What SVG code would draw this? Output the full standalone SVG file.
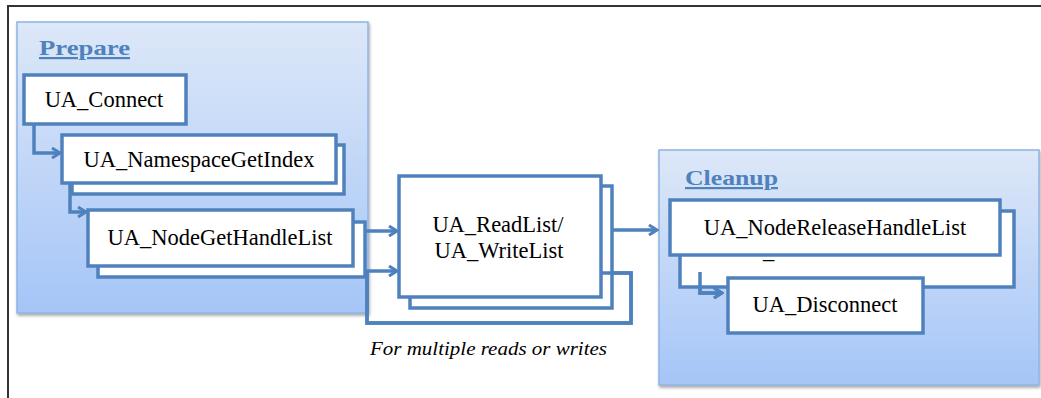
<svg xmlns="http://www.w3.org/2000/svg" width="1041" height="398" viewBox="0 0 1041 398">
<style>
.frame{stroke:#333;stroke-width:2;fill:none}
.group{fill:url(#grp);stroke:#8fb4e3;stroke-width:1.5;filter:url(#sh)}
.node{fill:#fff;stroke:#4f81bd;stroke-width:3.5}
.t{font-size:22.5px;fill:#000}
.tc{text-anchor:middle}
.h{font-size:22px;font-weight:bold;fill:#4f81bd;text-decoration:underline}
.note{font-size:18px;font-style:italic;fill:#000}
.c{fill:none;stroke:#4f81bd;stroke-width:3.5;marker-end:url(#ah)}
.cl{fill:none;stroke:#4f81bd;stroke-width:3.5}
</style>
<defs>
<linearGradient id="grp" x1="0" y1="0" x2="0" y2="1">
<stop offset="0" stop-color="#dde8f8"/>
<stop offset="1" stop-color="#a5c5f7"/>
</linearGradient>
<filter id="sh" x="-5%" y="-5%" width="110%" height="115%">
<feDropShadow dx="1" dy="2" stdDeviation="1.5" flood-color="#000" flood-opacity="0.35"/>
</filter>
<marker id="ah" viewBox="0 0 12 12" refX="10" refY="6" markerWidth="12" markerHeight="12" orient="auto" markerUnits="userSpaceOnUse">
<path d="M2,1 L10,6 L2,11" fill="none" stroke="#4f81bd" stroke-width="3"/>
</marker>
</defs>
<rect width="1041" height="398" fill="#fff"/>
<path class="frame" d="M8,398 V6 H1041"/>

<g font-family="'Liberation Serif', 'Times New Roman', serif">
<g id="prepare">
<rect class="group" x="17" y="22" width="351" height="291"/>
<text class="h" x="39" y="55" textLength="91" lengthAdjust="spacingAndGlyphs">Prepare</text>
</g>
<g id="cleanup">
<rect class="group" x="659" y="150" width="380" height="235"/>
<text class="h" x="685" y="185" textLength="93" lengthAdjust="spacingAndGlyphs">Cleanup</text>
</g>

<g id="connectors">
<path class="c" d="M34,124 V153 H60"/>
<path class="c" d="M70,183 V212 H86"/>
<path class="c" d="M353,231 H397"/>
<path class="c" d="M601,273 H631 V323 H367 V271 H397"/>
<path class="c" d="M601,230 H657"/>
<path class="c" d="M700,272 V293 H722"/>
</g>

<g id="ua_connect">
<rect class="node" x="24" y="75" width="162" height="49"/>
<text class="t tc" x="104" y="107">UA_Connect</text>
</g>
<g id="ua_namespacegetindex">
<rect class="node" x="72" y="145" width="272" height="49"/>
<rect class="node" x="62" y="135" width="274" height="48"/>
<text class="t tc" x="199" y="167">UA_NamespaceGetIndex</text>
</g>
<g id="ua_nodegethandlelist">
<rect class="node" x="98" y="222" width="267" height="55"/>
<rect class="node" x="88" y="210" width="265" height="56"/>
<text class="t tc" x="220" y="245">UA_NodeGetHandleList</text>
</g>
<g id="ua_readlist_writelist">
<rect class="node" x="410" y="186" width="202" height="122"/>
<rect class="node" x="399" y="176" width="202" height="121"/>
<text class="t tc" x="498" y="232">UA_ReadList/</text>
<text class="t tc" x="499" y="258">UA_WriteList</text>
</g>
<path class="cl" d="M601,273 H631 V323 H367 V271"/>
<g id="ua_nodereleasehandlelist">
<rect class="node" x="680" y="211" width="334" height="76"/>
<rect class="node" x="670" y="200" width="330" height="55"/>
<text class="t tc" x="835" y="235">UA_NodeReleaseHandleList</text>
<text class="t" x="763" y="258">_</text>
</g>
<path class="c" d="M700,272 V293 H722"/>
<g id="ua_disconnect">
<rect class="node" x="728" y="278" width="195" height="55"/>
<text class="t tc" x="825" y="312">UA_Disconnect</text>
</g>
<text class="note" x="370" y="355" textLength="237" lengthAdjust="spacingAndGlyphs">For multiple reads or writes</text>
</g>
</svg>
